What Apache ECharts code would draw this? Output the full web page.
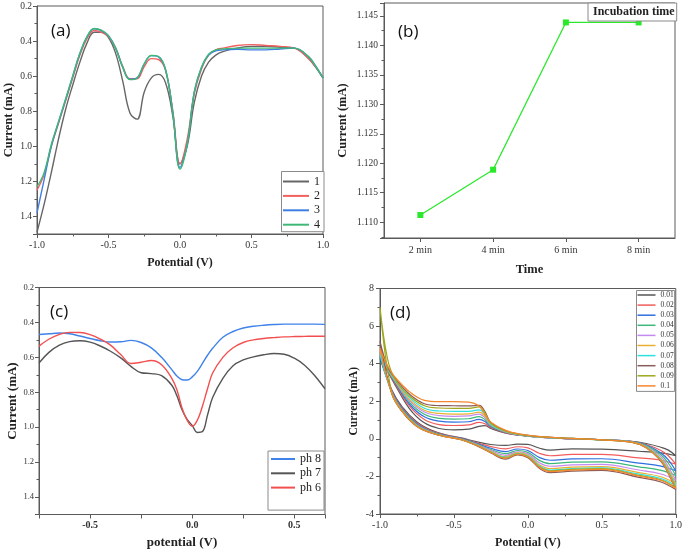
<!DOCTYPE html>
<html><head><meta charset="utf-8">
<script src="https://cdn.jsdelivr.net/npm/echarts@6/dist/echarts.min.js"></script>
<style>html,body{margin:0;padding:0;background:#fff}#c{width:685px;height:551px}</style>
</head><body><div id="c"></div>
<script>
// ---------- Panel (a) ----------
const potentialA = [-1.0,-0.95,-0.9,-0.85,-0.8,-0.75,-0.7,-0.65,-0.6,-0.55,-0.5,-0.45,-0.4,-0.35,-0.3,-0.25,-0.2,-0.15,-0.1,-0.05,0.0,0.05,0.1,0.15,0.2,0.25,0.3,0.4,0.5,0.6,0.7,0.8,0.9,0.95,1.0];
const a1 = [1.49,1.33,1.15,0.96,0.79,0.65,0.52,0.41,0.35,0.35,0.38,0.47,0.63,0.81,0.845,0.69,0.61,0.59,0.64,0.83,1.1,1.0,0.75,0.6,0.52,0.48,0.46,0.44,0.43,0.43,0.435,0.44,0.5,0.55,0.61];
const a2 = [1.25,1.16,1.0,0.87,0.74,0.61,0.48,0.385,0.34,0.35,0.375,0.44,0.545,0.615,0.615,0.545,0.5,0.505,0.57,0.8,1.1,0.96,0.7,0.56,0.48,0.45,0.44,0.425,0.42,0.425,0.43,0.44,0.5,0.55,0.61];
const a3 = [1.38,1.19,1.0,0.865,0.735,0.6,0.47,0.375,0.33,0.34,0.37,0.44,0.55,0.618,0.61,0.53,0.483,0.49,0.567,0.81,1.12,0.99,0.69,0.55,0.48,0.455,0.45,0.447,0.45,0.45,0.445,0.44,0.49,0.545,0.61];
const a4 = [1.23,1.15,0.99,0.86,0.73,0.6,0.47,0.375,0.328,0.338,0.37,0.44,0.55,0.62,0.61,0.53,0.482,0.488,0.565,0.81,1.13,0.99,0.69,0.55,0.475,0.45,0.445,0.44,0.44,0.44,0.44,0.44,0.49,0.545,0.61];
const namesA = ['1','2','3','4'];
const colorsA = ['#666666','#f26060','#3f7fe3','#3fb876'];

// ---------- Panel (b) ----------
const timesB = ['2 min','4 min','6 min','8 min'];
const currentB = [1.1112,1.1189,1.1439,1.1439];

// ---------- Panel (c) ----------
const potentialC = [-0.75,-0.7,-0.65,-0.6,-0.55,-0.5,-0.45,-0.4,-0.35,-0.3,-0.25,-0.2,-0.15,-0.1,-0.075,-0.05,-0.025,0,0.025,0.05,0.075,0.1,0.15,0.2,0.25,0.3,0.35,0.4,0.45,0.5,0.55,0.6,0.65];
const ph8 = [0.469,0.465,0.461,0.465,0.478,0.492,0.505,0.512,0.511,0.503,0.515,0.546,0.6,0.67,0.707,0.728,0.73,0.712,0.68,0.635,0.588,0.548,0.485,0.452,0.432,0.422,0.416,0.412,0.41,0.41,0.41,0.41,0.411];
const ph7 = [0.632,0.57,0.53,0.51,0.505,0.513,0.535,0.565,0.603,0.652,0.688,0.693,0.705,0.76,0.82,0.9,0.955,0.99,1.03,1.025,0.93,0.83,0.72,0.648,0.615,0.597,0.585,0.578,0.582,0.605,0.645,0.705,0.78];
const ph6 = [0.536,0.495,0.468,0.457,0.458,0.47,0.495,0.53,0.584,0.635,0.628,0.618,0.642,0.72,0.785,0.89,0.96,0.995,0.96,0.88,0.78,0.69,0.6,0.545,0.515,0.5,0.492,0.487,0.483,0.481,0.48,0.479,0.479];
const namesC = ['ph 8','ph 7','ph 6'];
const colorsC = ['#3f82ea','#555555','#f25050'];

// ---------- Panel (d) ----------
const potentialUp = [-1.0,-0.95,-0.9,-0.8,-0.7,-0.6,-0.5,-0.4,-0.33,-0.29,-0.25,-0.15,-0.05,0.1,0.3,0.5,0.7,0.8,0.9,0.95,1.0];
const potentialDown = [1.0,0.9,0.75,0.5,0.3,0.15,0.08,0.0,-0.07,-0.15,-0.25,-0.35,-0.45,-0.55,-0.65,-0.75,-0.85,-0.92,-1.0];
const rateNames = ['0.01','0.02','0.03','0.04','0.05','0.06','0.07','0.08','0.09','0.1'];
const rateColors = ['#555555','#f25c5c','#2f6fe0','#3cb878','#c48af0','#e8b030','#2ee0e0','#8b5a5a','#9ea81e','#f5862e'];
const cvUp = [
  [4.3,3.6,2.9,1.6,0.85,0.55,0.48,0.52,0.66,0.7,0.55,0.3,0.18,0.07,0.0,-0.05,-0.13,-0.25,-0.45,-0.6,-0.9],
  [4.5,3.65,2.96,1.74,1.03,0.76,0.71,0.74,0.88,0.8,0.6,0.32,0.19,0.07,0.0,-0.05,-0.14,-0.3,-0.62,-0.9,-1.35],
  [4.4,3.68,3.01,1.84,1.17,0.94,0.89,0.91,1.04,0.92,0.64,0.34,0.19,0.08,0.01,-0.05,-0.15,-0.33,-0.75,-1.12,-1.7],
  [4.6,3.71,3.05,1.94,1.31,1.09,1.05,1.07,1.18,1.02,0.68,0.36,0.2,0.08,0.01,-0.05,-0.15,-0.36,-0.85,-1.3,-1.95],
  [4.7,3.74,3.09,2.03,1.43,1.24,1.2,1.22,1.32,1.12,0.72,0.37,0.21,0.08,0.01,-0.05,-0.16,-0.4,-0.95,-1.5,-2.2],
  [4.8,3.77,3.12,2.1,1.52,1.35,1.32,1.33,1.42,1.2,0.75,0.38,0.21,0.09,0.01,-0.06,-0.17,-0.42,-1.05,-1.62,-2.4],
  [4.5,3.8,3.16,2.19,1.63,1.48,1.46,1.46,1.54,1.3,0.78,0.4,0.22,0.09,0.02,-0.06,-0.17,-0.44,-1.1,-1.72,-2.5],
  [5.2,3.86,3.24,2.37,1.87,1.77,1.76,1.75,1.78,1.45,0.86,0.43,0.24,0.1,0.02,-0.06,-0.18,-0.48,-1.2,-1.85,-2.7],
  [7.0,4.3,3.2,2.28,1.76,1.64,1.62,1.62,1.7,1.38,0.82,0.41,0.23,0.1,0.02,-0.06,-0.18,-0.46,-1.15,-1.8,-2.6],
  [4.8,3.9,3.3,2.5,2.05,1.98,1.98,1.95,1.75,1.3,0.88,0.45,0.25,0.1,0.02,-0.06,-0.18,-0.47,-1.15,-1.8,-2.65]
];
const cvDown = [
  [-0.9,-0.75,-0.66,-0.55,-0.53,-0.6,-0.5,-0.3,-0.28,-0.35,-0.3,-0.15,0.05,0.2,0.45,0.9,1.7,2.6,4.3],
  [-1.35,-1.14,-1.01,-0.83,-0.83,-0.9,-0.78,-0.48,-0.42,-0.53,-0.41,-0.2,0.03,0.18,0.41,0.84,1.64,2.55,4.5],
  [-1.7,-1.45,-1.29,-1.06,-1.07,-1.14,-1.0,-0.62,-0.54,-0.68,-0.5,-0.24,0.01,0.16,0.38,0.79,1.59,2.51,4.4],
  [-1.95,-1.68,-1.49,-1.23,-1.24,-1.32,-1.16,-0.72,-0.62,-0.79,-0.57,-0.27,-0.01,0.14,0.36,0.75,1.55,2.48,4.6],
  [-2.2,-1.87,-1.66,-1.36,-1.39,-1.46,-1.29,-0.8,-0.69,-0.88,-0.62,-0.29,-0.02,0.13,0.34,0.72,1.52,2.46,4.7],
  [-2.4,-2.02,-1.8,-1.48,-1.51,-1.58,-1.39,-0.87,-0.75,-0.95,-0.67,-0.31,-0.03,0.12,0.33,0.7,1.5,2.44,4.8],
  [-2.5,-2.11,-1.88,-1.54,-1.58,-1.66,-1.45,-0.92,-0.78,-0.99,-0.7,-0.33,-0.04,0.11,0.32,0.68,1.48,2.42,4.5],
  [-2.7,-2.3,-2.05,-1.68,-1.72,-1.8,-1.58,-1.0,-0.85,-1.08,-0.75,-0.35,-0.05,0.1,0.3,0.65,1.45,2.4,5.2],
  [-2.6,-2.18,-1.94,-1.59,-1.62,-1.7,-1.5,-0.94,-0.8,-1.02,-0.71,-0.33,-0.04,0.11,0.31,0.67,1.47,2.42,7.0],
  [-2.65,-2.22,-1.98,-1.62,-1.66,-1.74,-1.53,-0.97,-0.82,-1.04,-0.73,-0.34,-0.05,0.1,0.31,0.66,1.46,2.41,4.8]
];

// ---------- build ----------
const SERIF = '"Liberation Serif", "Times New Roman", serif';
const FRAME = '#5a5a5a';
function pairs(xs, ys){ return xs.map((x,i)=>[x, ys[i]]); }
function axisBase(gi, o){
  return Object.assign({
    gridIndex: gi, type: 'value',
    axisLine: {show: true, onZero: false, lineStyle: {color: FRAME, width: 1}},
    axisTick: {show: true, inside: false, length: 4, lineStyle: {color: FRAME}},
    minorTick: {show: true, splitNumber: 2, length: 2.5, lineStyle: {color: FRAME}},
    splitLine: {show: false},
    axisLabel: {fontFamily: SERIF, fontSize: 10, color: '#333', margin: 5},
    nameLocation: 'middle',
    nameTextStyle: {fontFamily: SERIF, fontWeight: 'bold', fontSize: 12.5, color: '#222'}
  }, o);
}
const isMult = (v, s) => Math.abs(v/s - Math.round(v/s)) < 1e-6;
const gridBase = {show: true, borderColor: FRAME, borderWidth: 1, backgroundColor: 'transparent', containLabel: false};

const series = [];
namesA.forEach((n,i)=>{
  series.push({name: n, type: 'line', xAxisIndex: 0, yAxisIndex: 0, data: pairs(potentialA, [a1,a2,a3,a4][i]),
    showSymbol: false, smooth: 0.4, color: colorsA[i], lineStyle: {width: 1.4}});
});
series.push({name: 'Incubation time', type: 'line', xAxisIndex: 1, yAxisIndex: 1, data: currentB,
  symbol: 'rect', symbolSize: 6, color: '#2be82b', lineStyle: {width: 1.3}});
namesC.forEach((n,i)=>{
  series.push({name: n, type: 'line', xAxisIndex: 2, yAxisIndex: 2, data: pairs(potentialC, [ph8,ph7,ph6][i]),
    showSymbol: false, smooth: 0.4, color: colorsC[i], lineStyle: {width: 1.4}});
});
rateNames.forEach((n,i)=>{
  const d = pairs(potentialUp, cvUp[i]).concat(pairs(potentialDown, cvDown[i]));
  series.push({name: n, type: 'line', xAxisIndex: 3, yAxisIndex: 3, data: d,
    showSymbol: false, smooth: 0.4, color: rateColors[i], lineStyle: {width: 1.2}});
});

const option = {
  animation: false,
  backgroundColor: '#fff',
  grid: [
    Object.assign({left: 37, top: 6, width: 286, height: 228}, gridBase),
    Object.assign({left: 384, top: 3, width: 291, height: 235}, gridBase),
    Object.assign({left: 39, top: 287.5, width: 286, height: 227}, gridBase),
    Object.assign({left: 380, top: 288.5, width: 298, height: 225.5}, gridBase)
  ],
  xAxis: [
    axisBase(0, {min: -1, max: 1, interval: 0.5, name: 'Potential (V)', nameGap: 23,
      nameTextStyle: {fontFamily: SERIF, fontWeight: 'bold', fontSize: 12, color: '#222'},
      axisLabel: {fontFamily: SERIF, fontSize: 10, color: '#333', margin: 6, formatter: v => v.toFixed(1)}}),
    {gridIndex: 1, type: 'category', data: timesB, boundaryGap: true,
      axisLine: {show: true, lineStyle: {color: FRAME}},
      axisTick: {show: true, alignWithLabel: true, length: 4, lineStyle: {color: FRAME}},
      axisLabel: {fontFamily: SERIF, fontSize: 10, color: '#333', margin: 7},
      name: 'Time', nameLocation: 'middle', nameGap: 25,
      nameTextStyle: {fontFamily: SERIF, fontWeight: 'bold', fontSize: 12.5, color: '#222'}},
    axisBase(2, {min: -0.75, max: 0.65, interval: 0.25, name: 'potential (V)', nameGap: 22,
      nameTextStyle: {fontFamily: SERIF, fontWeight: 'bold', fontSize: 13, color: '#222'},
      minorTick: {show: false},
      axisLabel: {fontFamily: SERIF, fontSize: 10, fontWeight: 'bold', color: '#333', margin: 6,
        formatter: v => isMult(v, 0.5) ? v.toFixed(1) : ''}}),
    axisBase(3, {min: -1, max: 1, interval: 0.5, name: 'Potential (V)', nameGap: 23,
      nameTextStyle: {fontFamily: SERIF, fontWeight: 'bold', fontSize: 12, color: '#222'},
      axisLabel: {fontFamily: SERIF, fontSize: 10, color: '#333', margin: 6, formatter: v => v.toFixed(1)}})
  ],
  yAxis: [
    axisBase(0, {min: 0.2, max: 1.5, interval: 0.2, inverse: true, name: 'Current (mA)', nameGap: 22,
      axisLabel: {fontFamily: SERIF, fontSize: 9.5, color: '#333', margin: 5,
        formatter: v => isMult(v, 0.2) ? v.toFixed(1) : ''}}),
    axisBase(1, {min: 1.1073, max: 1.1472, splitNumber: 8, name: 'Current (mA)', nameGap: 35,
      axisLabel: {fontFamily: SERIF, fontSize: 9.5, color: '#333', margin: 6,
        formatter: v => isMult(v, 0.005) ? v.toFixed(3) : ''}}),
    axisBase(2, {min: 0.2, max: 1.5, interval: 0.2, inverse: true, name: 'Current (mA)', nameGap: 20,
      nameTextStyle: {fontFamily: SERIF, fontWeight: 'bold', fontSize: 13, color: '#222'},
      axisLabel: {fontFamily: SERIF, fontSize: 8.5, color: '#333', margin: 5,
        formatter: v => isMult(v, 0.2) ? v.toFixed(1) : ''}}),
    axisBase(3, {min: -4, max: 8, interval: 2, name: 'Current (mA)', nameGap: 20,
      nameTextStyle: {fontFamily: SERIF, fontWeight: 'bold', fontSize: 11.5, color: '#222'},
      axisLabel: {fontFamily: SERIF, fontSize: 10, color: '#333', margin: 6}})
  ],
  legend: [
    {data: namesA, orient: 'vertical', left: 281.5, top: 171.5, icon: 'rect', itemWidth: 26, itemHeight: 2,
      itemGap: 1.4, padding: [3.5, 4, 0.5, 1.5], borderColor: '#8a8a8a', borderWidth: 1, backgroundColor: '#fff',
      textStyle: {fontFamily: SERIF, fontSize: 12, color: '#222', lineHeight: 13}},
    {data: ['Incubation time'], orient: 'vertical', left: 588, top: 3, icon: 'none', itemWidth: 0, itemHeight: 0,
      padding: [2, 2, 2, 0], borderColor: '#8a8a8a', borderWidth: 1, backgroundColor: '#fff',
      textStyle: {fontFamily: SERIF, fontSize: 12, fontWeight: 'bold', color: '#222', lineHeight: 14}},
    {data: namesC, orient: 'vertical', left: 268, top: 451, icon: 'rect', itemWidth: 24, itemHeight: 2,
      itemGap: 1.3, padding: [1.5, 3, 16, 3], borderColor: '#8a8a8a', borderWidth: 1, backgroundColor: '#fff',
      textStyle: {fontFamily: SERIF, fontSize: 12, color: '#222', lineHeight: 13}},
    {data: rateNames, orient: 'vertical', left: 636.5, top: 290.5, icon: 'rect', itemWidth: 18, itemHeight: 1.5,
      itemGap: 1.1, padding: [0, 1, 1, 1], borderColor: '#8a8a8a', borderWidth: 1, backgroundColor: '#fff',
      textStyle: {fontFamily: SERIF, fontSize: 7.5, color: '#333', lineHeight: 9}}
  ],
  graphic: [
    {type: 'text', x: 51, y: 31.5, style: {text: '(a)', font: '17px "Open Sans", sans-serif', fill: '#111', verticalAlign: 'middle'}},
    {type: 'text', x: 398, y: 32, style: {text: '(b)', font: '17px "Open Sans", sans-serif', fill: '#111', verticalAlign: 'middle'}},
    {type: 'text', x: 50, y: 312, style: {text: '(c)', font: '17px "Open Sans", sans-serif', fill: '#111', verticalAlign: 'middle'}},
    {type: 'text', x: 390, y: 313, style: {text: '(d)', font: '17px "Open Sans", sans-serif', fill: '#111', verticalAlign: 'middle'}}
  ],
  series: series
};
const chart = echarts.init(document.getElementById('c'), null, {renderer: 'canvas'});
chart.setOption(option);
</script></body></html>
